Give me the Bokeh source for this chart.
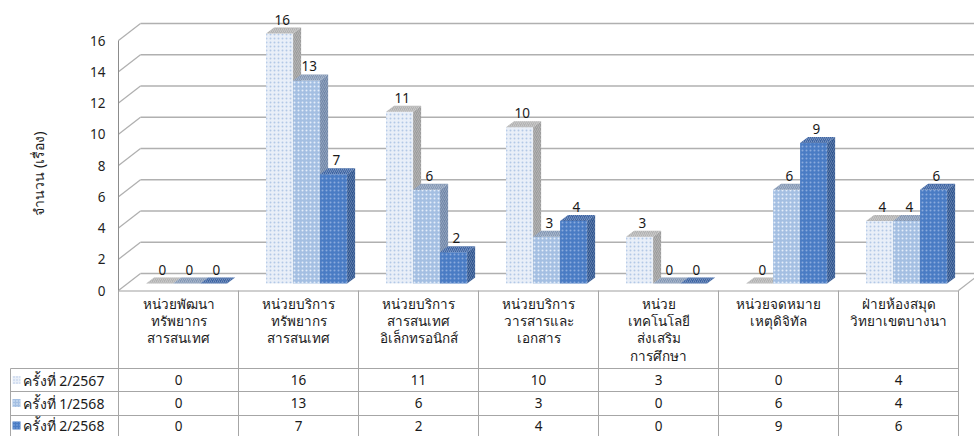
import math
from bokeh.plotting import figure
from bokeh.models import Range1d, FixedTicker, LinearAxis
from bokeh.core.properties import value
from bokeh.embed import file_html
from bokeh.resources import INLINE

# ---------------- data ----------------
categories = [
    "หน่วยพัฒนา\nทรัพยากร\nสารสนเทศ",
    "หน่วยบริการ\nทรัพยากร\nสารสนเทศ",
    "หน่วยบริการ\nสารสนเทศ\nอิเล็กทรอนิกส์",
    "หน่วยบริการ\nวารสารและ\nเอกสาร",
    "หน่วย\nเทคโนโลยี\nส่งเสริม\nการศึกษา",
    "หน่วยจดหมาย\nเหตุดิจิทัล",
    "ฝ่ายห้องสมุด\nวิทยาเขตบางนา",
]
series_names = ["ครั้งที่ 2/2567", "ครั้งที่ 1/2568", "ครั้งที่ 2/2568"]
s1 = [0, 16, 11, 10, 3, 0, 4]
s2 = [0, 13, 6, 3, 0, 6, 4]
s3 = [0, 7, 2, 4, 0, 9, 6]
y_ticks = [0, 2, 4, 6, 8, 10, 12, 14, 16]
y_title = "จำนวน (เรื่อง)"
series = [s1, s2, s3]

# ---------------- styles / geometry ----------------
FONT = value("Noto Sans")
PXX = 120.0      # px per category
PXY = 15.625     # px per unit
N = len(categories)
XMIN = -118 / PXX
XMAX = 856 / PXX
YMAX = 290 / PXY
YMIN = -146 / PXY
BAR_L = [0.23, 0.455, 0.68]
BAR_W = 0.225
DX = 8 / PXX
DY = 6 / PXY
BASE = 7 / PXY
WDX = 22 / PXX
WDY = 17 / PXY


def ty(px):
    """table position: pixels below the chart floor -> y units"""
    return -px / PXY


front_fill = ["#e9eff8", "#a4bfe2", "#4a7cc4"]
front_hatch = ["#b3c8e6", "#e4edf9", "#8aabdd"]
side_fill = ["#9c9c9c", "#6f86a8", "#2f5590"]
top_fill = ["#b2b2b2", "#8498b5", "#3d64a3"]
grid_color = "#b0b0b0"
line_color = "#a6a6a6"

p = figure(width=974, height=436, x_range=Range1d(XMIN, XMAX), y_range=Range1d(YMIN, YMAX),
           output_backend="svg", toolbar_location=None, x_axis_location=None,
           y_axis_location=None, min_border=0)
p.xgrid.visible = False
p.ygrid.visible = False
p.outline_line_color = None
p.background_fill_color = "white"
p.border_fill_color = "white"

ax = LinearAxis(fixed_location=0, ticker=FixedTicker(ticks=y_ticks), bounds=(0, 16))
ax.axis_line_color = "#8c8c8c"
ax.major_tick_line_color = None
ax.minor_tick_line_color = None
ax.major_tick_out = 0
ax.major_tick_in = 0
ax.major_label_standoff = 13
ax.major_label_text_font = "Noto Sans"
ax.major_label_text_font_size = "13.5px"
ax.major_label_text_color = "#1f1f1f"
p.add_layout(ax, "left")

# back wall gridlines and slanted side-wall lines
p.segment(x0=[WDX] * len(y_ticks), y0=[t + WDY for t in y_ticks],
          x1=[XMAX] * len(y_ticks), y1=[t + WDY for t in y_ticks],
          line_color=grid_color, line_width=1.6)
p.segment(x0=[0] * len(y_ticks), y0=y_ticks,
          x1=[WDX] * len(y_ticks), y1=[t + WDY for t in y_ticks],
          line_color=grid_color, line_width=1.3)
p.segment(x0=[N], y0=[0], x1=[N + WDX], y1=[WDY], line_color=grid_color, line_width=1.3)

for s, vals in enumerate(series):
    lefts = [i + BAR_L[s] for i in range(N)]
    rights = [l + BAR_W for l in lefts]
    tops = [BASE + v for v in vals]
    nz = [i for i in range(N) if vals[i] > 0]
    if nz:
        p.quad(left=[lefts[i] for i in nz], right=[rights[i] for i in nz],
               bottom=[BASE] * len(nz), top=[tops[i] for i in nz],
               fill_color=front_fill[s], line_color=None,
               hatch_pattern=".", hatch_color=front_hatch[s], hatch_scale=4, hatch_weight=1.3)
        p.patches(xs=[[rights[i], rights[i] + DX, rights[i] + DX, rights[i]] for i in nz],
                  ys=[[BASE, BASE + DY, tops[i] + DY, tops[i]] for i in nz],
                  fill_color=side_fill[s], line_color=None,
                  hatch_pattern="/", hatch_color="white", hatch_alpha=0.25, hatch_scale=4, hatch_weight=1)
    p.patches(xs=[[lefts[i], rights[i], rights[i] + DX, lefts[i] + DX] for i in range(N)],
              ys=[[tops[i], tops[i], tops[i] + DY, tops[i] + DY] for i in range(N)],
              fill_color=top_fill[s], line_color=None,
              hatch_pattern="/", hatch_color="white", hatch_alpha=0.3, hatch_scale=4, hatch_weight=1)
    p.text(x=[l + BAR_W / 2 + DX / 3 for l in lefts], y=[t + DY for t in tops],
           text=[str(v) for v in vals], text_font=FONT, text_font_size="13.5px",
           text_color="#1a1a1a", text_align="center", text_baseline="bottom", y_offset=-3)

# y axis title
p.text(x=[-80 / PXX], y=[(290 - 173) / PXY], text=[y_title], angle=math.pi / 2,
       text_font=FONT, text_font_size="14px", text_color="#1a1a1a",
       text_align="center", text_baseline="middle")

# ---------------- data table ----------------
ROW_TOPS = [ty(78), ty(101), ty(125)]
ROW_MID = [ty(89.5), ty(112.5), ty(135)]
LEG_L = -108 / PXX

p.segment(x0=[0], y0=[ty(0.5)], x1=[N], y1=[ty(0.5)], line_color="#a0a0a0", line_width=1.2)
p.segment(x0=[LEG_L] * 3, y0=ROW_TOPS, x1=[N] * 3, y1=ROW_TOPS, line_color=line_color, line_width=1)
p.segment(x0=list(range(N + 1)), y0=[0] * (N + 1), x1=list(range(N + 1)), y1=[YMIN] * (N + 1),
          line_color=line_color, line_width=1)
p.segment(x0=[LEG_L], y0=[ty(78)], x1=[LEG_L], y1=[YMIN], line_color=line_color, line_width=1)

p.text(x=[i + 0.5 for i in range(N)], y=[ty(4)] * N, text=categories, text_font=FONT,
       text_font_size="13.5px", text_color="#1a1a1a", text_align="center", text_baseline="top",
       text_line_height=0.97)

for s, vals in enumerate(series):
    p.text(x=[i + 0.5 for i in range(N)], y=[ROW_MID[s]] * N, text=[str(v) for v in vals],
           text_font=FONT, text_font_size="13.5px", text_color="#1a1a1a",
           text_align="center", text_baseline="middle")
    p.rect(x=[-102 / PXX], y=[ROW_MID[s]], width=8, height=8, width_units="screen",
           height_units="screen", fill_color=front_fill[s], line_color=None,
           hatch_pattern=".", hatch_color=front_hatch[s], hatch_scale=3, hatch_weight=1)
    p.text(x=[-96 / PXX], y=[ROW_MID[s]], text=[series_names[s]], text_font=FONT,
           text_font_size="14px", text_color="#1a1a1a", text_align="left", text_baseline="middle")

open("out.html", "w").write(file_html(p, INLINE))
